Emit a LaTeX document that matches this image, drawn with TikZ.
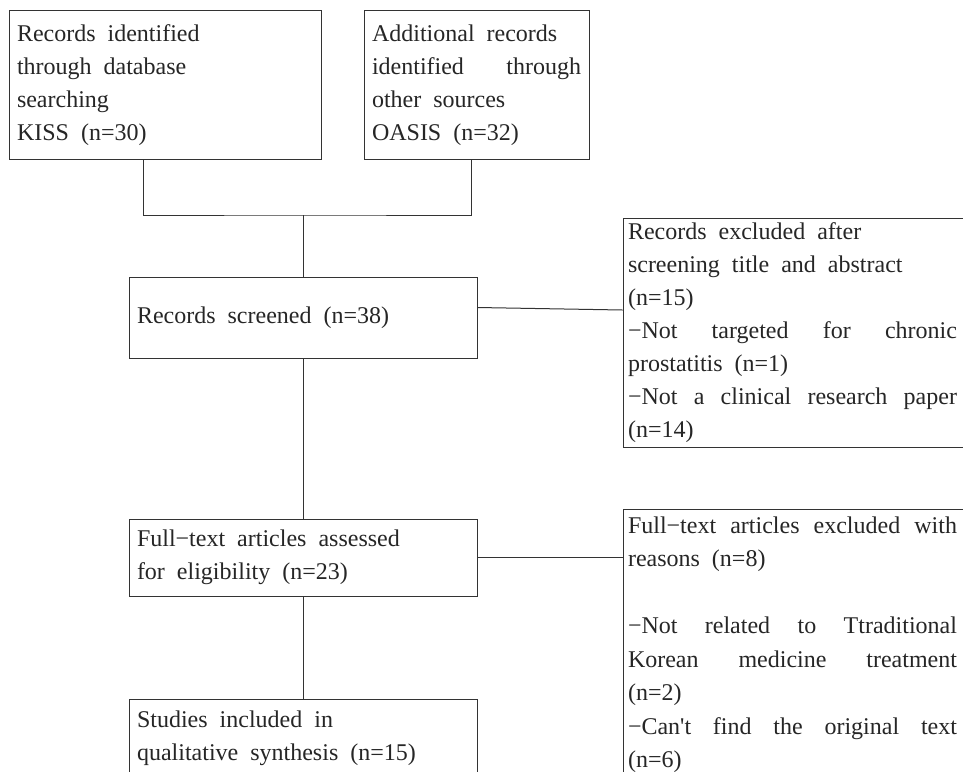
\documentclass[tikz,border=0pt]{standalone}
\usepackage{fontspec}
\setmainfont{Liberation Serif}[WordSpace=2]
\begin{document}
\begin{tikzpicture}[x=1pt, y=-1pt, line width=1pt,
  every node/.style={font=\fontsize{24}{33}\selectfont, text=black!85},
  box/.style={draw=black!80, align=justify, inner xsep=8pt, inner ysep=0pt},
  excl/.style={draw=black!80, align=justify, text width=345pt, inner xsep=5pt, inner ysep=0pt},
  link/.style={draw=black!80}]
\useasboundingbox (0,0) rectangle (963,771);
\clip (0,0) rectangle (963,771);
\fill[white] (0,0) rectangle (963,771);
\node[box,text width=296pt,minimum height=149pt] (recdb) at (165,85) {Records identified\\through database\\searching\\KISS (n=30)};
\node[box,text width=209pt,minimum height=149pt] (recother) at (476.5,85) {Additional records\\identified through\linebreak other sources\\OASIS (n=32)};
\node[box,text width=332pt,minimum height=81pt] (screen) at (303,317.5) {Records screened (n=38)};
\node[excl,minimum height=229pt] (excl1) at (800.5,333) {\parbox{329pt}{Records excluded after\\screening title and abstract\\(n=15)\\−Not targeted for chronic\linebreak prostatitis (n=1)\\−Not a clinical research paper\linebreak (n=14)}};
\node[box,text width=332pt,minimum height=77pt] (full) at (303,557.5) {Full−text articles assessed\\for eligibility (n=23)};
\node[excl,minimum height=271pt,font=\fontsize{24}{33.5}\selectfont] (excl2) at (800.5,644.5) {\parbox{329pt}{Full−text articles excluded with\linebreak reasons (n=8)\\[33.5pt]−Not related to Ttraditional\linebreak Korean medicine treatment\linebreak (n=2)\\−Can\textquotesingle t find the original text\linebreak (n=6)}};
\node[box,text width=332pt,minimum height=79pt] (incl) at (303,738.5) {Studies included in\\qualitative synthesis (n=15)};
\coordinate (join) at (303,215);
\draw[link] ([xshift=-22pt]recdb.south) |- (join) -| ([xshift=-5.5pt]recother.south);
\draw[link] (join) -- (screen.north);
\draw[link] ([yshift=10pt]screen.east) -- ([yshift=23pt]excl1.west);
\draw[link] (screen.south) -- (full.north);
\draw[link] (full.east) -- (full.east -| excl2.west);
\draw[link] (full.south) -- (incl.north);
\end{tikzpicture}
\end{document}
